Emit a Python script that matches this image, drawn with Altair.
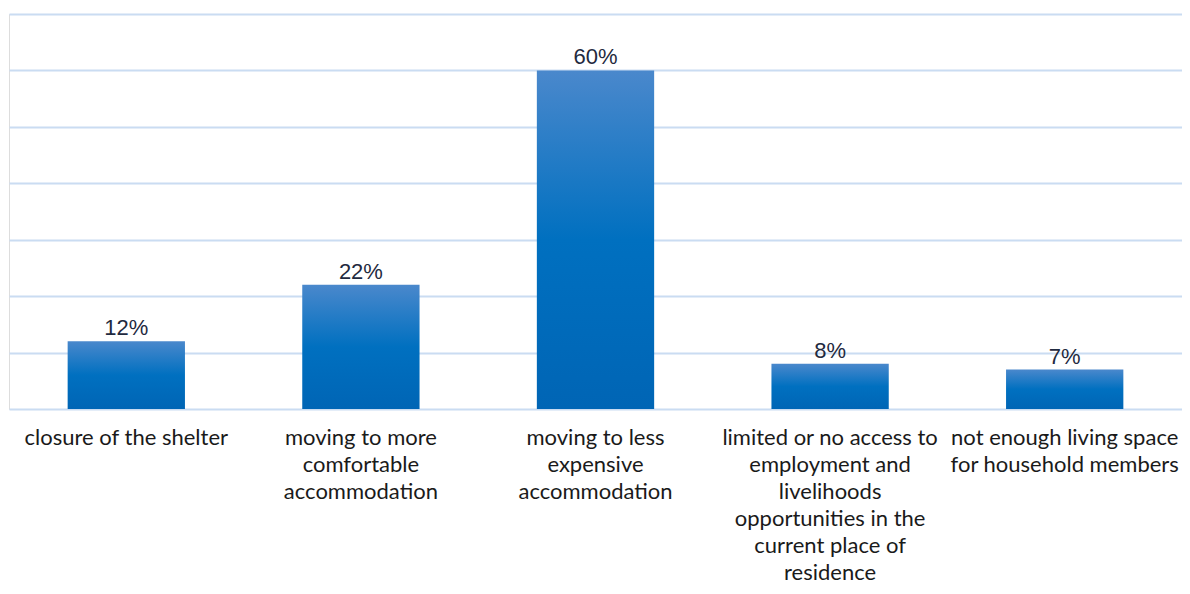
import altair as alt
import pandas as pd

categories = [
    "closure of the shelter",
    "moving to more|comfortable|accommodation",
    "moving to less|expensive|accommodation",
    "limited or no access to|employment and|livelihoods|opportunities in the|current place of|residence",
    "not enough living space|for household members",
]
values = [12, 22, 60, 8, 7]
labels = ["12%", "22%", "60%", "8%", "7%"]

df = pd.DataFrame({"cat": categories, "value": values, "label": labels})

grad = alt.Gradient(
    gradient="linear",
    x1=0, x2=0, y1=0, y2=1,
    stops=[
        alt.GradientStop(color="#4a88cc", offset=0),
        alt.GradientStop(color="#0070c0", offset=0.5),
        alt.GradientStop(color="#0065b5", offset=1),
    ],
)

x = alt.X(
    "cat:N",
    sort=categories,
    scale=alt.Scale(paddingInner=0.5, paddingOuter=0.25),
    axis=alt.Axis(
        title=None,
        labelAngle=0,
        labelExpr="split(datum.label, '|')",
        labelFont="Lato",
        labelFontSize=22,
        labelColor="#1a1a1a",
        labelLineHeight=27,
        labelPadding=18,
        labelLimit=400,
        ticks=False,
        domain=False,
        labelBaseline="top",
    ),
)
y = alt.Y(
    "value:Q",
    scale=alt.Scale(domain=[0, 70], nice=False),
    axis=alt.Axis(
        title=None,
        values=[0, 10, 20, 30, 40, 50, 60, 70],
        labels=False,
        ticks=False,
        domain=False,
        grid=True,
        gridColor="#cadcf2",
        gridWidth=2,
    ),
)

bars = alt.Chart(df).mark_bar(color=grad).encode(x=x, y=y)
text = alt.Chart(df).mark_text(
    dy=-13, font="Liberation Sans", fontSize=22, color="#1f2a40"
).encode(
    x=alt.X("cat:N", sort=categories),
    y=alt.Y("value:Q"),
    text="label:N",
)

chart = (
    alt.layer(bars, text)
    .properties(width=1173, height=395, autosize=alt.AutoSizeParams(type="none"),
                padding={"left": 1, "top": 6, "right": 0, "bottom": 177})
    .configure_view(stroke="transparent", strokeWidth=0)
    .configure_axis(domain=False)
    .configure(background="white")
)

chart.save("out.html", embed_options={"renderer": "svg", "actions": False})
